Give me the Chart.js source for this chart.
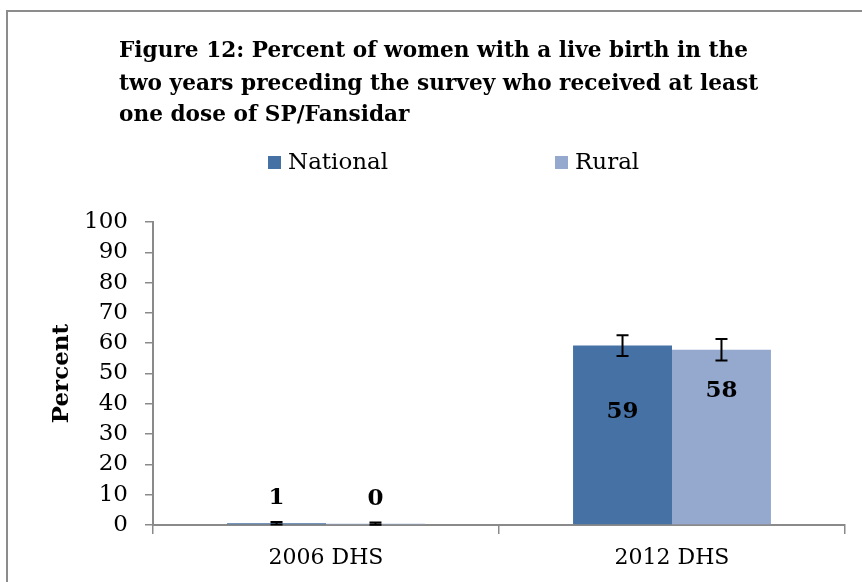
<!DOCTYPE html>
<html>
<head>
<meta charset="utf-8">
<script src="https://cdn.jsdelivr.net/npm/chart.js@4.4.0/dist/chart.umd.min.js"></script>
<style>
  html, body { margin: 0; padding: 0; background: #fff; }
  #wrap { width: 862px; height: 582px; }
</style>
</head>
<body>
<div id="wrap"><canvas id="chart" width="862" height="582"></canvas></div>
<script>
const categories = ['2006 DHS', '2012 DHS'];
const seriesNames = ['National', 'Rural'];
const nationalValues = [0.6, 59.2];
const ruralValues = [0.4, 57.8];
const nationalErrLow = [0.2, 55.8];
const nationalErrHigh = [1.0, 62.6];
const ruralErrLow = [0.1, 54.3];
const ruralErrHigh = [0.8, 61.4];
const titleLines = [
  'Figure 12: Percent of women with a live birth in the',
  'two years preceding the survey who received at least',
  'one dose of SP/Fansidar'
];
const seriesColors = ['#4671A5', '#95A9CF'];
const errLow = [nationalErrLow, ruralErrLow];
const errHigh = [nationalErrHigh, ruralErrHigh];

const SERIF = '"DejaVu Serif", "Liberation Serif", serif';
const AXIS_GREY = '#8a8a8a';

// frame, title and legend
const decorPlugin = {
  id: 'decor',
  beforeDraw(chart) {
    const ctx = chart.ctx;
    ctx.save();
    ctx.fillStyle = '#fff';
    ctx.fillRect(0, 0, chart.width, chart.height);
    ctx.strokeStyle = '#8c8c8c';
    ctx.lineWidth = 2;
    ctx.strokeRect(7, 11, 1000, 1000);

    // title: bold serif, squeezed slightly to keep the original line width
    ctx.fillStyle = '#000';
    ctx.font = 'bold 23px ' + SERIF;
    ctx.textAlign = 'left';
    ctx.textBaseline = 'alphabetic';
    const sx = Math.min(1, 629 / ctx.measureText(titleLines[0]).width);
    const baselines = [57, 90, 121];
    titleLines.forEach((line, i) => {
      ctx.save();
      ctx.translate(119, baselines[i]);
      ctx.scale(sx, 1);
      ctx.fillText(line, 0, 0);
      ctx.restore();
    });

    // legend
    const legendX = [268, 555];
    ctx.textBaseline = 'middle';
    chart.data.datasets.forEach((ds, i) => {
      ctx.fillStyle = ds.backgroundColor;
      ctx.fillRect(legendX[i], 156, 13, 13);
      ctx.fillStyle = '#000';
      ctx.font = '23px ' + SERIF;
      ctx.fillText(ds.label, legendX[i] + 20, 163);
    });
    ctx.restore();
  }
};

// error bars and value labels
const barExtrasPlugin = {
  id: 'barExtras',
  afterDatasetsDraw(chart) {
    const ctx = chart.ctx;
    const y = chart.scales.y;
    ctx.save();
    ctx.strokeStyle = '#000';
    ctx.lineWidth = 2;
    chart.data.datasets.forEach((ds, i) => {
      chart.getDatasetMeta(i).data.forEach((bar, j) => {
        const lo = y.getPixelForValue(errLow[i][j]);
        const hi = y.getPixelForValue(errHigh[i][j]);
        ctx.beginPath();
        ctx.moveTo(bar.x, lo); ctx.lineTo(bar.x, hi);
        ctx.moveTo(bar.x - 6, lo); ctx.lineTo(bar.x + 6, lo);
        ctx.moveTo(bar.x - 6, hi); ctx.lineTo(bar.x + 6, hi);
        ctx.stroke();
      });
    });
    // label offsets from bar top, per series / category
    const offsets = [[-25, 66], [-25, 41]];
    ctx.fillStyle = '#000';
    ctx.font = 'bold 23px ' + SERIF;
    ctx.textAlign = 'center';
    ctx.textBaseline = 'middle';
    chart.data.datasets.forEach((ds, i) => {
      chart.getDatasetMeta(i).data.forEach((bar, j) => {
        ctx.fillText(String(Math.round(ds.data[j])), bar.x, bar.y + offsets[i][j]);
      });
    });
    ctx.restore();
  }
};

new Chart(document.getElementById('chart'), {
  type: 'bar',
  data: {
    labels: categories,
    datasets: [
      { label: seriesNames[0], data: nationalValues, backgroundColor: seriesColors[0] },
      { label: seriesNames[1], data: ruralValues, backgroundColor: seriesColors[1] }
    ]
  },
  options: {
    responsive: false,
    animation: false,
    devicePixelRatio: 1,
    categoryPercentage: 0.572,
    barPercentage: 1.0,
    layout: { padding: { top: 222, right: 17, bottom: 0, left: 0 } },
    plugins: {
      legend: { display: false },
      title: { display: false },
      tooltip: { enabled: false }
    },
    scales: {
      x: {
        offset: true,
        grid: { drawOnChartArea: false, drawTicks: true, tickLength: 9, offset: true, color: AXIS_GREY, lineWidth: 1.5 },
        border: { display: true, color: AXIS_GREY, width: 2 },
        ticks: { color: '#000', font: { family: SERIF, size: 22 }, padding: 11 },
        afterFit: s => { s.height = 57; }
      },
      y: {
        min: 0, max: 100,
        ticks: { stepSize: 10, autoSkip: false, color: '#000', font: { family: SERIF, size: 23 }, padding: 17 },
        grid: { drawOnChartArea: false, drawTicks: true, tickLength: 8, color: AXIS_GREY, lineWidth: 1.5 },
        border: { display: true, color: AXIS_GREY, width: 2 },
        title: { display: true, text: 'Percent', color: '#000', font: { family: SERIF, size: 23, weight: 'bold' }, padding: { top: 48 } },
        afterFit: s => { s.width = 153; }
      }
    }
  },
  plugins: [decorPlugin, barExtrasPlugin]
});
</script>
</body>
</html>
